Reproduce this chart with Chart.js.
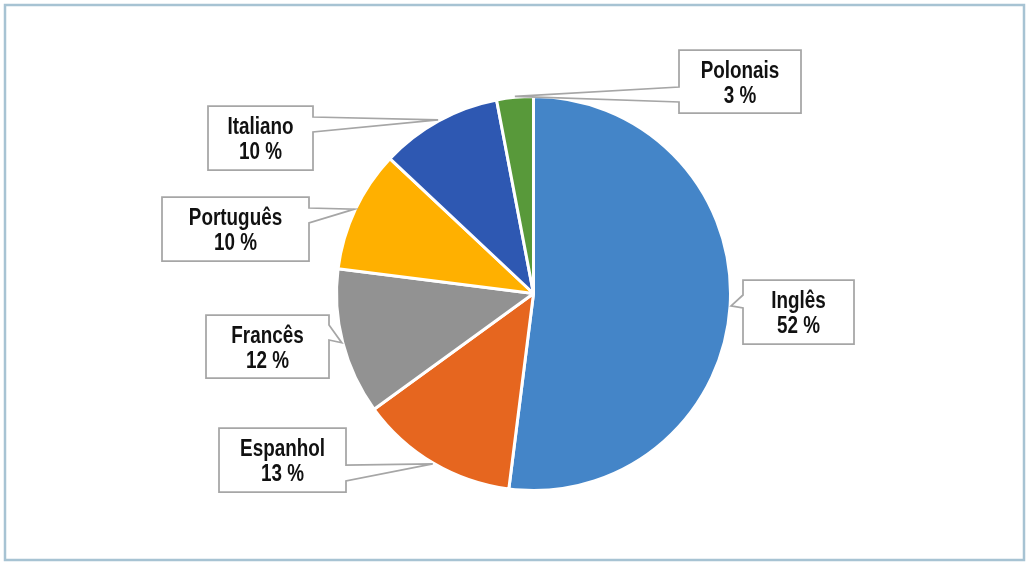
<!DOCTYPE html>
<html>
<head>
<meta charset="utf-8">
<script src="https://cdn.jsdelivr.net/npm/chart.js@4/dist/chart.umd.min.js"></script>
<style>
  html, body { margin: 0; padding: 0; background: #fff; }
  #wrap { width: 1026px; height: 562px; position: relative; }
</style>
</head>
<body>
<div id="wrap"><canvas id="pie" width="1026" height="562"></canvas></div>
<script>
const languages = ["Inglês", "Espanhol", "Francês", "Português", "Italiano", "Polonais"];
const shares = [52, 13, 12, 10, 10, 3];
const sliceColors = ["#4485C8", "#E6661F", "#929292", "#FFB000", "#2E58B2", "#58993A"];

// callout boxes (layout only): rect + side of the pointer base + base y range
const callouts = [
  { x: 743, y: 280, w: 111, h: 64, side: "left",  b0: 295, b1: 308 },
  { x: 219, y: 428, w: 127, h: 64, side: "right", b0: 465, b1: 481 },
  { x: 206, y: 315, w: 123, h: 63, side: "right", b0: 325, b1: 340 },
  { x: 162, y: 197, w: 147, h: 64, side: "right", b0: 208, b1: 223 },
  { x: 208, y: 106, w: 105, h: 64, side: "right", b0: 117, b1: 132 },
  { x: 679, y: 50,  w: 122, h: 63, side: "left",  b0: 87,  b1: 102 }
];

// no narrow font installed: Liberation Sans bold squeezed horizontally
const labelFont = 'bold 23px "Liberation Sans", Arial, sans-serif';
const squeeze = 0.82;

const framePlugin = {
  id: "frame",
  beforeDraw(chart) {
    const ctx = chart.ctx;
    ctx.save();
    ctx.fillStyle = "#fff";
    ctx.fillRect(0, 0, chart.width, chart.height);
    ctx.strokeStyle = "#A7C3D3";
    ctx.lineWidth = 2.5;
    ctx.strokeRect(5, 5, 1019, 555);
    ctx.restore();
  }
};

const calloutPlugin = {
  id: "callouts",
  afterDatasetsDraw(chart) {
    const ctx = chart.ctx;
    const meta = chart.getDatasetMeta(0);
    ctx.save();
    meta.data.forEach((arc, i) => {
      const p = arc.getProps(["x", "y", "startAngle", "endAngle", "outerRadius"], true);
      const mid = (p.startAngle + p.endAngle) / 2;
      const tx = p.x + Math.cos(mid) * (p.outerRadius + 1);
      const ty = p.y + Math.sin(mid) * (p.outerRadius + 1);
      const c = callouts[i];
      const bx = c.side === "left" ? c.x : c.x + c.w;

      // box outline with wedge pointer
      ctx.beginPath();
      if (c.side === "left") {
        ctx.moveTo(c.x, c.y);
        ctx.lineTo(c.x + c.w, c.y);
        ctx.lineTo(c.x + c.w, c.y + c.h);
        ctx.lineTo(c.x, c.y + c.h);
        ctx.lineTo(bx, c.b1);
        ctx.lineTo(tx, ty);
        ctx.lineTo(bx, c.b0);
        ctx.closePath();
      } else {
        ctx.moveTo(c.x, c.y);
        ctx.lineTo(c.x + c.w, c.y);
        ctx.lineTo(bx, c.b0);
        ctx.lineTo(tx, ty);
        ctx.lineTo(bx, c.b1);
        ctx.lineTo(c.x + c.w, c.y + c.h);
        ctx.lineTo(c.x, c.y + c.h);
        ctx.closePath();
      }
      ctx.fillStyle = "#fff";
      ctx.fill();
      ctx.strokeStyle = "#A6A6A6";
      ctx.lineWidth = 1.75;
      ctx.lineJoin = "miter";
      ctx.stroke();

      const cx = c.x + c.w / 2;
      ctx.save();
      ctx.translate(cx, c.y);
      ctx.scale(squeeze, 1);
      ctx.fillStyle = "#111";
      ctx.font = labelFont;
      ctx.textAlign = "center";
      ctx.textBaseline = "alphabetic";
      ctx.fillText(chart.data.labels[i], 0, 28);
      ctx.fillText(chart.data.datasets[0].data[i] + " %", 0, 53);
      ctx.restore();
    });
    ctx.restore();
  }
};

new Chart(document.getElementById("pie").getContext("2d"), {
  type: "pie",
  data: {
    labels: languages,
    datasets: [
      {
        data: shares,
        backgroundColor: sliceColors,
        borderColor: "#fff",
        borderWidth: 3,
      },
    ],
  },
  options: {
    responsive: false,
    animation: false,
    radius: 197,
    layout: {
      padding: { left: 200, right: 159, top: 97, bottom: 72 },
    },
    plugins: {
      legend: { display: false },
      tooltip: { enabled: false },
    },
  },
  plugins: [framePlugin, calloutPlugin],
});
</script>
</body>
</html>
